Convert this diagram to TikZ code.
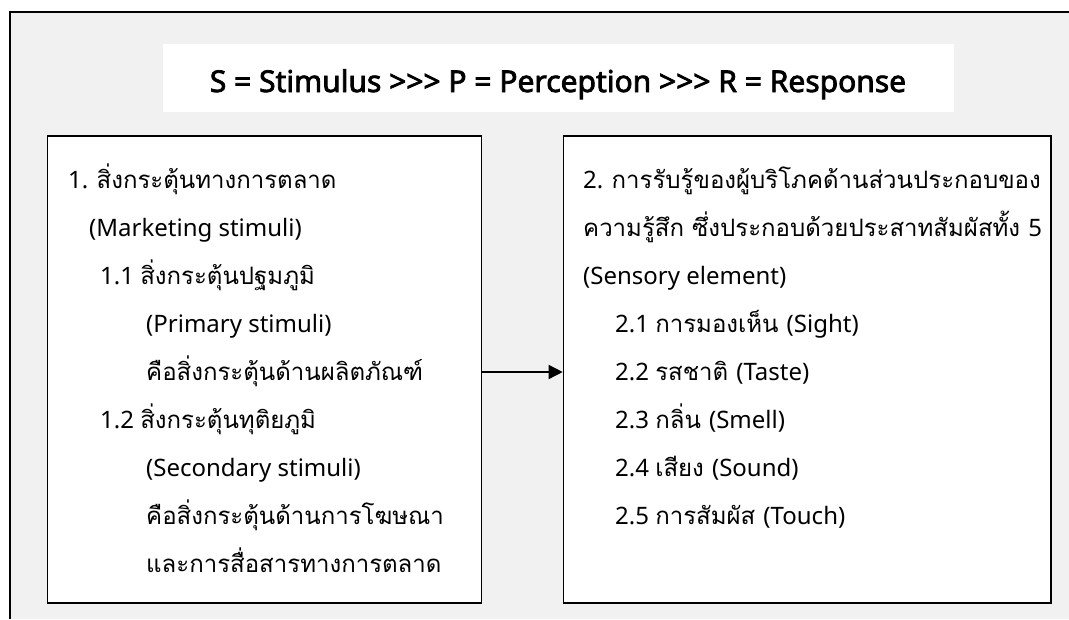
\documentclass[tikz,border=0pt]{standalone}
\usepackage{fontspec}
\setmainfont{Loma}[Script=Thai]
\newfontfamily\lat{Noto Sans}[AutoFakeBold=2.5]
\usetikzlibrary{arrows.meta}
\definecolor{framegray}{HTML}{F1F1F1}
\newcommand{\la}[1]{{\lat\fontsize{24}{28}\selectfont #1}}
\begin{document}
\begin{tikzpicture}[x=1pt,y=-1pt,
  boxst/.style={draw=black,line width=1.6pt,fill=white,inner sep=0pt,anchor=north west},
  txt/.style={anchor=base west,inner sep=0pt,font=\fontsize{24}{28}\selectfont},
  titlest/.style={anchor=base,inner sep=0pt,font=\lat\fontsize{30}{34}\selectfont\bfseries},
  conn/.style={line width=1.4pt,-{Triangle[length=14pt,width=14pt]}}]
\useasboundingbox (0,0) rectangle (1069,619);
\fill[framegray] (10,12) rectangle (1069,619);
\draw[line width=1.6pt] (10,619) -- (10,12) -- (1069,12);
\node[fill=white,minimum width=791pt,minimum height=68pt,inner sep=0pt,anchor=north west] (titlebox) at (163,44) {};
\node[titlest] (title) at (558,92) {S = Stimulus >{}>{}> P = Perception >{}>{}> R = Response};
\node[boxst,minimum width=434pt,minimum height=467pt] (left) at (46.7,135) {};
\node[boxst,minimum width=487.3pt,minimum height=467pt] (right) at (562.7,135) {};
% left box text
\node[txt] (l1) at (68,188) {\la{1. }สิ่งกระตุ้นทางการตลาด};
\node[txt] (l2) at (89,236) {\la{(Marketing stimuli)}};
\node[txt] (l3) at (100,284) {\la{1.1 }สิ่งกระตุ้นปฐมภูมิ};
\node[txt] (l4) at (146,332) {\la{(Primary stimuli)}};
\node[txt] (l5) at (146,380) {คือสิ่งกระตุ้นด้านผลิตภัณฑ์};
\node[txt] (l6) at (100,428) {\la{1.2 }สิ่งกระตุ้นทุติยภูมิ};
\node[txt] (l7) at (146,476) {\la{(Secondary stimuli)}};
\node[txt] (l8) at (146,524) {คือสิ่งกระตุ้นด้านการโฆษณา};
\node[txt] (l9) at (146,572) {และการสื่อสารทางการตลาด};
% right box text
\node[txt] (r1) at (583,188) {\la{2. }การรับรู้ของผู้บริโภคด้านส่วนประกอบของ};
\node[txt] (r2) at (583,236) {ความรู้สึก ซึ่งประกอบด้วยประสาทสัมผัสทั้ง \la{5}};
\node[txt] (r3) at (583,284) {\la{(Sensory element)}};
\node[txt] (r4) at (615,332) {\la{2.1 }การมองเห็น \la{(Sight)}};
\node[txt] (r5) at (615,380) {\la{2.2 }รสชาติ \la{(Taste)}};
\node[txt] (r6) at (615,428) {\la{2.3 }กลิ่น \la{(Smell)}};
\node[txt] (r7) at (615,476) {\la{2.4 }เสียง \la{(Sound)}};
\node[txt] (r8) at (615,524) {\la{2.5 }การสัมผัส \la{(Touch)}};
\coordinate (ay) at (0,372);
\draw[conn] (left.east |- ay) -- (right.west |- ay);
\end{tikzpicture}
\end{document}
